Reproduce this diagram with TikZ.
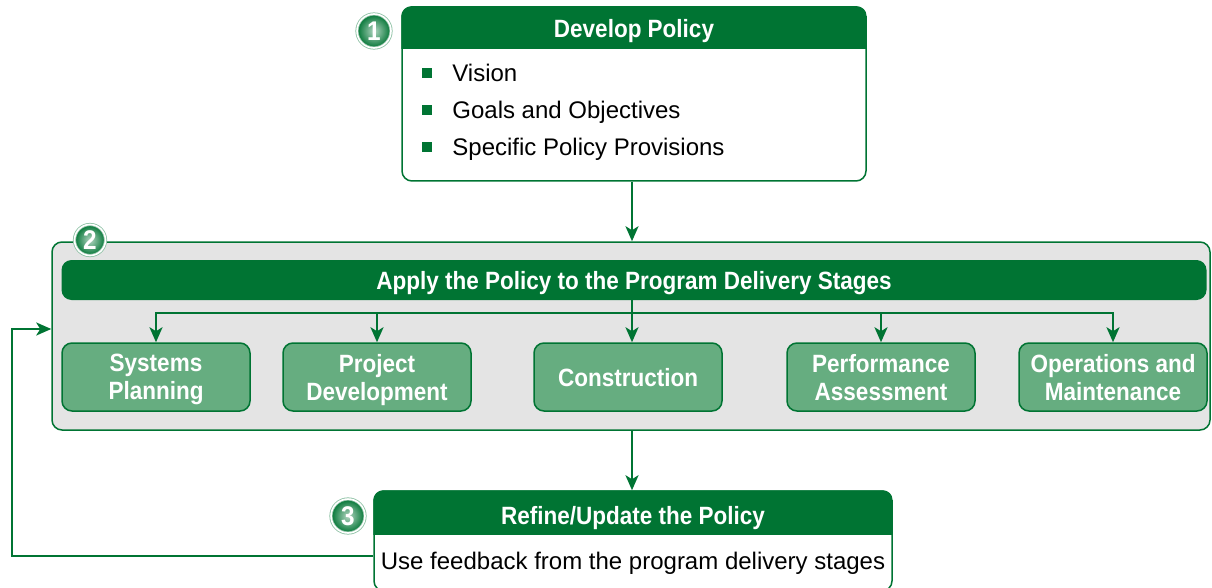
\documentclass[tikz,border=0pt]{standalone}
\usepackage{fontspec}
\setmainfont{Liberation Sans}
\newfontfamily\condfont{Liberation Sans}[FakeStretch=0.9]
\usetikzlibrary{positioning, arrows.meta}
\definecolor{darkgreen}{RGB}{0,116,51}
\definecolor{stagegreen}{RGB}{102,173,128}
\definecolor{panelgray}{RGB}{228,228,228}

\begin{document}
\begin{tikzpicture}[x=1pt, y=-1pt,
    box/.style={draw=darkgreen, line width=1.5pt, fill=white, rounded corners=10pt},
    title/.style={text=white, inner sep=0pt, text height=18pt, text depth=0pt, font=\condfont\bfseries\fontsize{25}{28}\selectfont},
    bar/.style={fill=darkgreen, rounded corners=10pt, minimum width=1145pt, minimum height=40pt, text height=18pt, text depth=0pt, text=white, font=\condfont\bfseries\fontsize{25}{28}\selectfont},
    stage/.style={draw=darkgreen, line width=1.5pt, fill=stagegreen, rounded corners=10pt, minimum width=188pt, minimum height=68pt, text depth=0pt, align=center, text=white, font=\condfont\bfseries\fontsize{25}{28}\selectfont},
    item/.style={font=\fontsize{24}{28}\selectfont, inner sep=0pt, text height=17pt, text depth=0pt},
    bullet/.style={fill=darkgreen, minimum size=10pt, inner sep=0pt},
    badge/.style={circle, draw=darkgreen!45, double=white, double distance=1.6pt, line width=0.8pt, inner color=darkgreen!30!white, outer color=darkgreen, minimum size=34pt, inner sep=0pt, text=white, font=\condfont\bfseries\fontsize{27}{27}\selectfont},
    flow/.style={draw=darkgreen, line width=2.5pt, -{Stealth[length=15pt, width=13pt, inset=4pt]}},
    wire/.style={draw=darkgreen, line width=2.5pt}]
    \useasboundingbox (0,0) rectangle (1212,588);

    % step 1
    \node[box, minimum width=464pt, minimum height=174pt] (dev) at (634,94) {};
    \begin{scope}
        \clip[rounded corners=10pt] (dev.north west) rectangle (dev.south east);
        \fill[darkgreen] (dev.north west) rectangle ([yshift=-43pt]dev.north east);
    \end{scope}
    \node[title] (devtitle) at (634,29) {Develop Policy};
    \node[bullet] (b1) at (427,73) {};
    \node[bullet] (b2) at (427,110) {};
    \node[bullet] (b3) at (427,147) {};
    \node[item, right=20pt of b1] (vision) {Vision};
    \node[item, right=20pt of b2] (goals) {Goals and Objectives};
    \node[item, right=20pt of b3] (provisions) {Specific Policy Provisions};
    \node[badge] (one) at (374,31) {1};

    % step 2
    \node[box, fill=panelgray, minimum width=1158pt, minimum height=188pt] (stages) at (631,336) {};
    \node[badge, minimum size=31pt] (two) at (90,240) {2};
    \node[bar] (apply) at (634,280) {Apply the Policy to the Program Delivery Stages};
    \node[stage] (planning) at (156,377) {Systems\\Planning};
    \node[stage] (projdev) at (377,377) {Project\\Development};
    \node[stage] (construction) at (628,377) {Construction};
    \node[stage] (assessment) at (881,377) {Performance\\Assessment};
    \node[stage] (operations) at (1113,377) {Operations and\\Maintenance};
    \coordinate (split) at (632,313);

    \draw[wire] (split |- apply.south) -- (split);
    \draw[flow] (split) -| (planning.north);
    \draw[flow] (split) -| (projdev.north);
    \draw[flow] (split) -- (split |- construction.north);
    \draw[flow] (split) -| (assessment.north);
    \draw[flow] (split) -| (operations.north);

    % step 3
    \node[box, minimum width=518pt, minimum height=100pt] (ref) at (633,541) {};
    \begin{scope}
        \clip[rounded corners=10pt] (ref.north west) rectangle (ref.south east);
        \fill[darkgreen] (ref.north west) rectangle ([yshift=-45pt]ref.north east);
    \end{scope}
    \node[title] (reftitle) at (633,515) {Refine/Update the Policy};
    \node[item] (feedback) at (633,561) {Use feedback from the program delivery stages};
    \node[badge] (three) at (348,516) {3};

    \draw[flow] (dev.south -| split) -- (split |- stages.north);
    \draw[flow] (stages.south -| split) -- (split |- ref.north);
    \coordinate (fbcorner) at (12,556);
    \draw[flow] (ref.west |- fbcorner) -- (fbcorner) |- (stages.west |- 0,329);
\end{tikzpicture}
\end{document}
